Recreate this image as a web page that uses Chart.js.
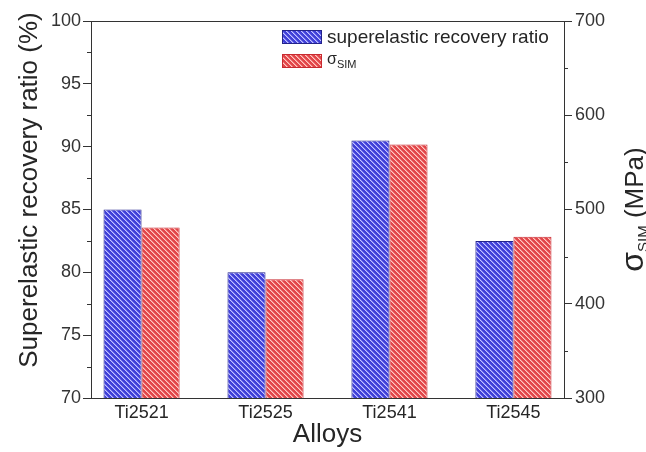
<!DOCTYPE html>
<html>
<head>
<meta charset="utf-8">
<script src="https://cdn.jsdelivr.net/npm/chart.js@4.4.1/dist/chart.umd.min.js"></script>
<style>
  html, body { margin: 0; padding: 0; background: #ffffff; }
  #wrap { width: 646px; height: 452px; }
</style>
</head>
<body>
<div id="wrap"><canvas id="chart" width="646" height="452"></canvas></div>
<script>
// Alloy compositions along the x axis
const alloys = ['Ti2521', 'Ti2525', 'Ti2541', 'Ti2545'];
// Superelastic recovery ratio (%), left axis
const recoveryRatio = [85.0, 80.0, 90.5, 82.5];
// Critical stress for stress-induced martensite (MPa), right axis
const sigmaSIM = [481, 426, 569, 471];
// Axis ranges and tick steps
const ratioTicks = { min: 70, max: 100, step: 5 };
const sigmaTicks = { min: 300, max: 700, step: 100 };
const seriesLabels = ['superelastic recovery ratio', 'σ'];

const FONT = "'Liberation Sans', Arial, sans-serif";
const INK = '#262626';
const AXIS = '#333333';

// Diagonal hatch fill for the bars: a light stripe plus a softer half-tone beside it
function hatch(base, stripe, soft) {
  const n = 5;
  const c = document.createElement('canvas');
  c.width = n; c.height = n;
  const g = c.getContext('2d');
  g.fillStyle = base;
  g.fillRect(0, 0, n, n);
  for (let i = 0; i < n; i++) {
    g.fillStyle = stripe;
    g.fillRect(i, i, 1, 1);
    g.fillStyle = soft;
    g.fillRect((i + 1) % n, i, 1, 1);
  }
  return g.createPattern(c, 'repeat');
}
const blueFill = hatch('#4040d8', '#c4c4ff', '#7a7af0');
const redFill = hatch('#e2464a', '#ffcac2', '#f08484');
const blueEdge = '#23238a';
const redEdge = '#c82a30';

const positions = alloys.map((_, i) => i + 1);

// Minor ticks, frame top, axis titles and the legend
const decorations = {
  id: 'decorations',
  afterDraw(chart) {
    const ctx = chart.ctx;
    const a = chart.chartArea;
    const y = chart.scales.y, y2 = chart.scales.y2;
    ctx.save();
    ctx.strokeStyle = AXIS;
    ctx.lineWidth = 1;
    ctx.beginPath();
    for (let v = ratioTicks.min + ratioTicks.step / 2; v < ratioTicks.max; v += ratioTicks.step) {
      const p = Math.round(y.getPixelForValue(v)) + 0.5;
      ctx.moveTo(a.left - 4, p); ctx.lineTo(a.left, p);
    }
    for (let v = sigmaTicks.min + sigmaTicks.step / 2; v < sigmaTicks.max; v += sigmaTicks.step) {
      const p = Math.round(y2.getPixelForValue(v)) + 0.5;
      ctx.moveTo(a.right, p); ctx.lineTo(a.right + 4, p);
    }
    // top edge of the frame
    ctx.moveTo(a.left, Math.round(a.top) + 0.5);
    ctx.lineTo(a.right, Math.round(a.top) + 0.5);
    ctx.stroke();

    ctx.fillStyle = INK;
    // left axis title
    ctx.save();
    ctx.translate(30, 190);
    ctx.rotate(-Math.PI / 2);
    ctx.font = '26px ' + FONT;
    ctx.textAlign = 'center';
    ctx.textBaseline = 'middle';
    ctx.fillText('Superelastic recovery ratio (%)', 0, 0);
    ctx.restore();

    // right axis title: sigma with SIM subscript
    ctx.save();
    ctx.translate(634, (a.top + a.bottom) / 2);
    ctx.rotate(-Math.PI / 2);
    ctx.textBaseline = 'alphabetic';
    ctx.textAlign = 'left';
    const f1 = '32px ' + FONT, f2 = '15px ' + FONT, f3 = '26px ' + FONT;
    ctx.font = f1; const w1 = ctx.measureText('σ').width;
    ctx.font = f2; const w2 = ctx.measureText('SIM').width;
    ctx.font = f3; const w3 = ctx.measureText(' (MPa)').width;
    let x = -(w1 + w2 + w3) / 2;
    ctx.font = f1; ctx.fillText('σ', x, 9); x += w1;
    ctx.font = f2; ctx.fillText('SIM', x, 14); x += w2;
    ctx.font = f3; ctx.fillText(' (MPa)', x, 9);
    ctx.restore();

    // x axis title
    ctx.font = '26px ' + FONT;
    ctx.textAlign = 'center';
    ctx.textBaseline = 'alphabetic';
    ctx.fillText('Alloys', (a.left + a.right) / 2, 442);

    // legend
    const ds = chart.data.datasets;
    const rows = [a.top + 9, a.top + 33];
    const bx = a.left + 191;
    ds.forEach((d, i) => {
      ctx.fillStyle = d.backgroundColor;
      ctx.fillRect(bx, rows[i], 40, 14);
      ctx.strokeStyle = d.borderColor;
      ctx.strokeRect(bx + 0.5, rows[i] + 0.5, 39, 13);
    });
    ctx.fillStyle = INK;
    ctx.textAlign = 'left';
    ctx.font = '19px ' + FONT;
    ctx.fillText(seriesLabels[0], bx + 45, rows[0] + 13);
    ctx.font = '16px ' + FONT;
    ctx.fillText(seriesLabels[1], bx + 45, rows[1] + 10);
    const ws = ctx.measureText(seriesLabels[1]).width;
    ctx.font = '11px ' + FONT;
    ctx.fillText('SIM', bx + 45 + ws, rows[1] + 14);
    ctx.restore();
  }
};

new Chart(document.getElementById('chart'), {
  type: 'bar',
  data: {
    datasets: [
      {
        label: seriesLabels[0],
        data: positions.map((p, i) => ({ x: p, y: recoveryRatio[i] })),
        yAxisID: 'y',
        backgroundColor: blueFill,
        borderColor: blueEdge,
        borderWidth: 1
      },
      {
        label: 'σSIM',
        data: positions.map((p, i) => ({ x: p, y: sigmaSIM[i] })),
        yAxisID: 'y2',
        backgroundColor: redFill,
        borderColor: redEdge,
        borderWidth: 1
      }
    ]
  },
  options: {
    responsive: false,
    animation: false,
    events: [],
    layout: { padding: { top: 21, left: 0, right: 0, bottom: 0 } },
    datasets: { bar: { categoryPercentage: 0.614, barPercentage: 1 } },
    plugins: { legend: { display: false }, tooltip: { enabled: false } },
    scales: {
      x: {
        type: 'linear',
        offset: false,
        min: 0.592,
        max: 4.408,
        afterBuildTicks: (s) => { s.ticks = positions.map(v => ({ value: v })); },
        afterFit: (s) => { s.height = 54; },
        grid: { display: true, drawOnChartArea: false, drawTicks: false, offset: false },
        border: { color: AXIS, width: 1 },
        ticks: {
          padding: 4,
          color: INK,
          font: { family: FONT, size: 18 },
          maxRotation: 0,
          autoSkip: false,
          callback: (v, i) => alloys[i]
        }
      },
      y: {
        position: 'left',
        min: ratioTicks.min,
        max: ratioTicks.max,
        afterFit: (s) => { s.width = 91; },
        grid: { drawOnChartArea: false, tickLength: 8, tickColor: AXIS },
        border: { color: AXIS, width: 1 },
        ticks: {
          stepSize: ratioTicks.step,
          padding: 2,
          color: '#333333',
          font: { family: FONT, size: 18 }
        }
      },
      y2: {
        position: 'right',
        min: sigmaTicks.min,
        max: sigmaTicks.max,
        afterFit: (s) => { s.width = 82; },
        grid: { drawOnChartArea: false, tickLength: 8, tickColor: AXIS },
        border: { color: AXIS, width: 1 },
        ticks: {
          stepSize: sigmaTicks.step,
          padding: 3,
          color: '#333333',
          font: { family: FONT, size: 18 }
        }
      }
    }
  },
  plugins: [decorations]
});
</script>
</body>
</html>
